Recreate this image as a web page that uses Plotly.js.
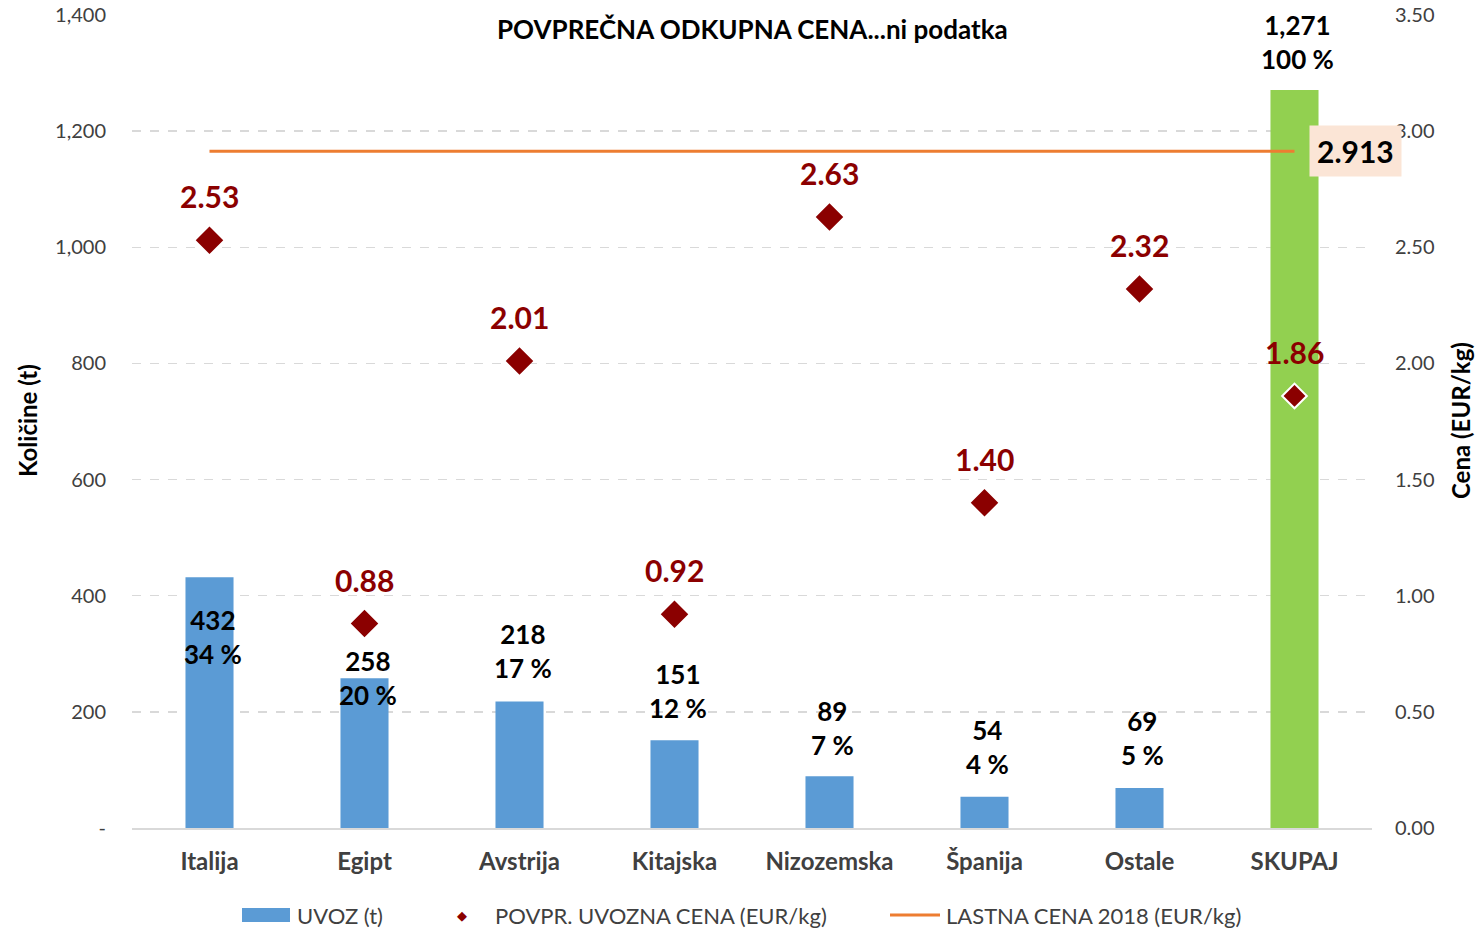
<!DOCTYPE html>
<html><head><meta charset="utf-8">
<script src="https://cdn.plot.ly/plotly-3.0.1.min.js"></script>
<style>body{margin:0;background:#fff}#c{width:1477px;height:930px}</style>
</head><body><div id="c"></div>
<script>
const categories = ["Italija","Egipt","Avstrija","Kitajska","Nizozemska","Španija","Ostale","SKUPAJ"];
const quantities = [432, 258, 218, 151, 89, 54, 69, 1271];
const prices = [2.53, 0.88, 2.01, 0.92, 2.63, 1.40, 2.32, 1.86];
const ownPrice = 2.913;
const leftTicks = [0, 200, 400, 600, 800, 1000, 1200, 1400];
const rightTicks = [0, 0.5, 1, 1.5, 2, 2.5, 3, 3.5];
const titleText = "POVPREČNA ODKUPNA CENA...ni podatka";
const seriesNames = ["UVOZ (t)", "POVPR. UVOZNA CENA (EUR/kg)", "LASTNA CENA 2018 (EUR/kg)"];

const FONT = "Lato, 'Open Sans', sans-serif";
const W = 1477, H = 930;
const M = {l: 132, r: 105, t: 15, b: 102};
const PW = W - M.l - M.r, PH = H - M.t - M.b;
const px = x => (x - M.l) / PW;          // pixel -> paper x
const py = y => (H - M.b - y) / PH;      // pixel -> paper y

const BLUE = "#5B9BD5", GREEN = "#92D050", RED = "#8B0000", ORANGE = "#ED7D31";
const total = quantities[quantities.length - 1];
const last = categories.length - 1;
const barColors = categories.map((c, i) => i === last ? GREEN : BLUE);
const labelShift = [-60, 0, 50, 49, 48, 50, 50, 48];

const traces = [
  {type: "bar", name: seriesNames[0], x: categories, y: quantities,
   marker: {color: barColors}, width: 0.31, yaxis: "y", hoverinfo: "skip"},
  {type: "scatter", mode: "lines", name: seriesNames[2], x: categories,
   y: categories.map(() => ownPrice), yaxis: "y2", line: {color: ORANGE, width: 3}},
  {type: "scatter", mode: "markers", name: seriesNames[1], x: categories, y: prices,
   yaxis: "y2", marker: {symbol: "diamond", size: 19, color: RED,
   line: {color: categories.map((c, i) => i === last ? "#ffffff" : RED), width: 2}}}
];

const annotations = [];
categories.forEach((c, i) => {
  const pct = Math.round(quantities[i] / total * 100);
  annotations.push({x: c, y: quantities[i], yref: "y", xref: "x",
    text: quantities[i].toLocaleString("en-US") + "<br>" + pct + " %",
    showarrow: false, yshift: labelShift[i], xshift: 3,
    font: {family: FONT, size: 26, color: "#000", weight: "bold"}, align: "center"});
  annotations.push({x: c, y: prices[i], yref: "y2", xref: "x",
    text: prices[i].toFixed(2), showarrow: false, yshift: 44,
    font: {family: FONT, size: 30, color: RED, weight: "bold"}});
});
annotations.push({x: categories[last], y: ownPrice, xref: "x", yref: "y2",
  text: ownPrice.toFixed(3), showarrow: false, xshift: 61, bgcolor: "#FBE5D6",
  borderpad: 7, font: {family: FONT, size: 30, color: "#000", weight: "bold"}});
annotations.push({xref: "paper", yref: "paper", x: 0.5, y: py(29), xanchor: "center", yanchor: "middle",
  text: "<b>" + titleText + "</b>", showarrow: false,
  font: {family: FONT, size: 26, color: "#000"}});

// custom legend
const LY = 915;
const legFont = {family: FONT, size: 22, color: "#404040"};
const shapes = [
  {type: "rect", xref: "paper", yref: "paper", x0: px(242), x1: px(290), y0: py(922), y1: py(908),
   fillcolor: BLUE, line: {width: 0}},
  {type: "line", xref: "paper", yref: "paper", x0: px(890), x1: px(940), y0: py(LY), y1: py(LY),
   line: {color: ORANGE, width: 3}}
];
annotations.push({xref: "paper", yref: "paper", x: px(295), y: py(LY), xanchor: "left", yanchor: "middle",
  text: seriesNames[0], showarrow: false, font: legFont});
annotations.push({xref: "paper", yref: "paper", x: px(462), y: py(LY), xanchor: "center", yanchor: "middle",
  text: "◆", showarrow: false, font: {family: "DejaVu Sans", size: 13, color: RED}});
annotations.push({xref: "paper", yref: "paper", x: px(493), y: py(LY), xanchor: "left", yanchor: "middle",
  text: seriesNames[1], showarrow: false, font: legFont});
annotations.push({xref: "paper", yref: "paper", x: px(944), y: py(LY), xanchor: "left", yanchor: "middle",
  text: seriesNames[2], showarrow: false, font: legFont});
// axis titles
annotations.push({xref: "paper", yref: "paper", x: px(27), y: py(421), textangle: -90,
  xanchor: "center", yanchor: "middle",
  text: "<b>Količine (t)</b>", showarrow: false, font: {family: FONT, size: 24, color: "#000"}});
annotations.push({xref: "paper", yref: "paper", x: px(1460), y: py(421), textangle: -90,
  xanchor: "center", yanchor: "middle",
  text: "<b>Cena (EUR/kg)</b>", showarrow: false, font: {family: FONT, size: 24, color: "#000"}});

const layout = {
  width: W, height: H,
  margin: M,
  paper_bgcolor: "#fff", plot_bgcolor: "#fff",
  font: {family: FONT, color: "#404040"},
  showlegend: false,
  xaxis: {type: "category", range: [-0.5, categories.length - 0.5], showgrid: false,
    showline: true, linecolor: "#d9d9d9", linewidth: 1.5, automargin: false,
    tickfont: {family: FONT, size: 24, color: "#404040", weight: "bold"}, ticks: "", ticklabelstandoff: 12},
  yaxis: {range: [0, 1400], tickvals: leftTicks, automargin: false,
    ticktext: leftTicks.map(v => v === 0 ? "-" : v.toLocaleString("en-US")),
    showgrid: true, gridcolor: "#d9d9d9", griddash: "dash", gridwidth: 1.5, zeroline: false,
    tickfont: {family: FONT, size: 20, color: "#404040"}, ticklabelstandoff: 25},
  yaxis2: {range: [0, 3.5], overlaying: "y", side: "right", tickvals: rightTicks, automargin: false,
    ticktext: rightTicks.map(v => v.toFixed(2)), showgrid: false, zeroline: false,
    tickfont: {family: FONT, size: 20, color: "#404040"}, ticklabelstandoff: 22},
  shapes: shapes,
  annotations: annotations
};

Plotly.newPlot("c", traces, layout, {displayModeBar: false, staticPlot: true});
</script></body></html>
